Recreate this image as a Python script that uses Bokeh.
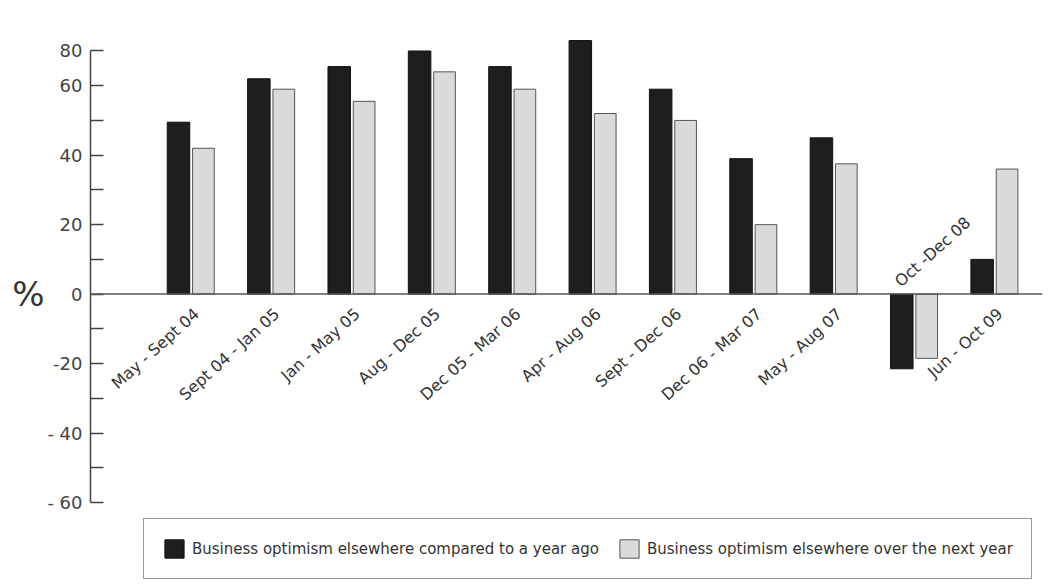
import numpy as np
from bokeh.plotting import figure
from bokeh.models import (ColumnDataSource, Range1d, FixedTicker, Span, LinearAxis,
                          Legend, LegendItem)
from bokeh.core.properties import value
from bokeh.transform import dodge
from bokeh.embed import file_html
from bokeh.resources import INLINE

# ---- data ----
categories = ["May - Sept 04", "Sept 04 - Jan 05", "Jan - May 05", "Aug - Dec 05",
              "Dec 05 - Mar 06", "Apr - Aug 06", "Sept - Dec 06", "Dec 06 - Mar 07",
              "May - Aug 07", "Oct -Dec 08", "Jun - Oct 09"]
optimism_vs_year_ago = [49.5, 62, 65.5, 70, 65.5, 73, 59, 39, 45, -21.5, 10]
optimism_next_year = [42, 59, 55.5, 64, 59, 52, 50, 20, 37.5, -18.5, 36]
series_names = ["Business optimism elsewhere compared to a year ago",
                "Business optimism elsewhere over the next year"]
tick_values = [-60, -40, -20, 0, 20, 40, 60, 70]
tick_labels = ["- 60", "- 40", "-20", "0", "20", "40", "60", "80"]
minor_tick_values = [-50, -30, -10, 10, 30, 50]
unit_label = "%"

FONT = "DejaVu Sans"
idx = np.arange(len(categories))
ago = np.array(optimism_vs_year_ago, dtype=float)
nxt = np.array(optimism_next_year, dtype=float)
neg = np.minimum(ago, nxt) < 0

src = ColumnDataSource(dict(x=idx, ago=ago, nxt=nxt, cat=categories))
src_below = ColumnDataSource(dict(x=idx[~neg], cat=[c for c, n in zip(categories, neg) if not n]))
src_above = ColumnDataSource(dict(x=idx[neg], cat=[c for c, n in zip(categories, neg) if n]))

p = figure(width=1050, height=585, x_range=Range1d(-1.25, 10.596), y_range=Range1d(-83.9, 75.9),
           output_backend="svg", toolbar_location=None, x_axis_location=None,
           min_border_left=90, min_border_right=8, min_border_top=30, min_border_bottom=0)
p.outline_line_color = None
p.xgrid.visible = False
p.ygrid.visible = False
p.background_fill_color = "white"

r1 = p.vbar(x=dodge('x', -0.155), top='ago', bottom=0, width=0.28, source=src,
            fill_color="#1e1e1e", line_color="#111111", line_width=1)
r2 = p.vbar(x=dodge('x', 0.155), top='nxt', bottom=0, width=0.27, source=src,
            fill_color="#dadada", line_color="#555555", line_width=1)

p.add_layout(Span(location=0, dimension="width", line_color="#555555", line_width=1.5))

p.text(x=dodge('x', 0.07), y=-5, text='cat', source=src_below, angle=0.733,
       text_align="right", text_baseline="middle", text_font=value(FONT),
       text_font_size="16px", text_color="#333333")
p.text(x=dodge('x', -0.21), y=3, text='cat', source=src_above, angle=0.733,
       text_align="left", text_baseline="middle", text_font=value(FONT),
       text_font_size="16px", text_color="#333333")

ax = p.yaxis[0]
ax.ticker = FixedTicker(ticks=tick_values, minor_ticks=minor_tick_values)
ax.bounds = (-60, 70)
ax.major_label_overrides = {v: l for v, l in zip(tick_values, tick_labels)}
ax.major_tick_in = 13
ax.major_tick_out = 0
ax.minor_tick_in = 13
ax.minor_tick_out = 0
ax.axis_line_color = "#444444"
ax.axis_line_width = 1.5
ax.major_tick_line_color = "#444444"
ax.major_tick_line_width = 1.5
ax.minor_tick_line_color = "#444444"
ax.minor_tick_line_width = 1.5
ax.major_label_text_font = FONT
ax.major_label_text_font_size = "18px"
ax.major_label_text_color = "#444444"
ax.major_label_standoff = 8

pct_axis = LinearAxis(ticker=FixedTicker(ticks=[0]), major_label_overrides={0: unit_label},
                      axis_line_color=None, major_tick_line_color=None,
                      minor_tick_line_color=None, major_tick_in=0, major_tick_out=0,
                      major_label_standoff=0, major_label_text_font=FONT,
                      major_label_text_font_size="34px", major_label_text_color="#333333")
p.add_layout(pct_axis, "left")

legend = Legend(items=[LegendItem(label=series_names[0], renderers=[r1]),
                       LegendItem(label=series_names[1], renderers=[r2])],
                orientation="horizontal", location=(53, 6), margin=0, padding=18,
                spacing=18, glyph_width=24, glyph_height=23, label_height=23,
                label_standoff=6, label_text_font=FONT, label_text_font_size="15px",
                label_text_color="#333333", border_line_color="#333333",
                border_line_width=1, background_fill_color="white")
p.add_layout(legend)

open("out.html", "w").write(file_html(p, INLINE))
